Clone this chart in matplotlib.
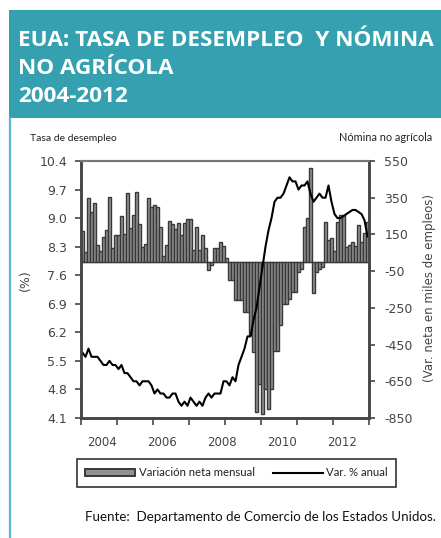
import matplotlib
matplotlib.use('Agg')
import matplotlib.pyplot as plt
from matplotlib.patches import Rectangle, Patch
from matplotlib.lines import Line2D
import numpy as np

# Datos mensuales ene-2004 a dic-2011
payroll = [
    170, 55, 350, 270, 322, 93, 60, 135, 173, 356, 77, 145,          # 2004
    148, 252, 154, 374, 183, 255, 382, 206, 79, 96, 349, 298,        # 2005
    310, 298, 190, 32, 95, 224, 205, 180, 210, 146, 210, 233,        # 2006
    233, 64, 188, 64, 146, 77, -46, -18, 77, 77, 109, 88,            # 2007
    20, -98, -100, -208, -208, -208, -274, -274, -400, -492, -815, -665,  # 2008
    -826, -692, -802, -692, -487, -487, -345, -230, -230, -200, -165, -165,  # 2009
    -55, -36, 191, 241, 514, -168, -55, -40, -30, 219, 120, 130,     # 2010
    60, 219, 257, 257, 82, 93, 110, 88, 202, 110, 160, 219,          # 2011
]
unemp = [
    5.7, 5.6, 5.8, 5.6, 5.6, 5.6, 5.5, 5.4, 5.4, 5.5, 5.4, 5.4,
    5.3, 5.4, 5.2, 5.2, 5.1, 5.0, 5.0, 4.9, 5.0, 5.0, 5.0, 4.9,
    4.7, 4.8, 4.7, 4.7, 4.6, 4.6, 4.7, 4.7, 4.5, 4.4, 4.5, 4.4,
    4.6, 4.5, 4.4, 4.5, 4.4, 4.6, 4.7, 4.6, 4.7, 4.7, 4.7, 5.0,
    5.0, 4.9, 5.1, 5.0, 5.4, 5.6, 5.8, 6.1, 6.1, 6.5, 6.8, 7.3,
    7.8, 8.3, 8.7, 9.0, 9.4, 9.5, 9.5, 9.6, 9.8, 10.0, 9.9, 9.9,
    9.7, 9.8, 9.8, 9.9, 9.6, 9.4, 9.5, 9.6, 9.5, 9.5, 9.8, 9.4,
    9.1, 9.0, 9.0, 9.05, 9.1, 9.15, 9.2, 9.2, 9.15, 9.1, 8.95, 8.55,
]
year_labels = ['2004', '2006', '2008', '2010', '2012']
year_label_pos = [7, 27, 47, 67, 87]
left_ticks = [4.1, 4.8, 5.5, 6.2, 6.9, 7.6, 8.3, 9.0, 9.7, 10.4]
right_ticks = [-850, -650, -450, -250, -50, 150, 350, 550]

W, H = 441, 538
fig = plt.figure(figsize=(W / 100, H / 100), dpi=100)

teal = '#35a1b0'
# encabezado
fig.patches.append(Rectangle((9 / W, 1 - 118 / H), 1 - 9 / W, 108 / H,
                             transform=fig.transFigure, facecolor=teal,
                             edgecolor='none', zorder=0))
fig.add_artist(Line2D([9.5 / W, 9.5 / W], [0, 1 - 118 / H], color='#5cb9c6',
                      lw=1.6, transform=fig.transFigure))

tkw = dict(color='white', fontweight='bold', family='Open Sans', fontsize=16.2,
           va='baseline', ha='left')
fig.text(18 / W, 1 - 46 / H, 'EUA: TASA DE DESEMPLEO  Y NÓMINA', **tkw)
fig.text(18 / W, 1 - 74 / H, 'NO AGRÍCOLA', **tkw)
fig.text(18 / W, 1 - 102 / H, '2004-2012', **tkw)

fig.text(30 / W, 1 - 141 / H, 'Tasa de desempleo', family='Lato', fontsize=7.5,
         color='#222', va='baseline')
fig.text(432 / W, 1 - 141 / H, 'Nómina no agrícola', family='Lato', fontsize=7.8,
         color='#222', va='baseline', ha='right')

ax = fig.add_axes([81 / W, 1 - 418 / H, 288 / W, 257 / H])
ax2 = ax.twinx()

x = np.arange(len(payroll)) + 0.5
ax2.bar(x, payroll, width=1.0, facecolor='#929292', edgecolor='#383838', lw=1.0)
ax2.axhline(0, color='#8a8a8a', lw=1.0, zorder=0.5)
ax.plot(x, unemp, color='black', lw=1.5)

ax.set_zorder(ax2.get_zorder() + 1)
ax.patch.set_visible(False)

ax.set_xlim(0, 96)
ax.set_ylim(4.1, 10.4)
ax2.set_ylim(-850, 550)
ax.set_yticks(left_ticks)
ax.set_yticklabels([f'{v:.1f}' for v in left_ticks])
ax2.set_yticks(right_ticks)
ax2.set_yticklabels([str(v) for v in right_ticks])

ax.set_xticks(np.arange(0, 97, 12))
ax.set_xticklabels([])
ax.set_xticks(year_label_pos, minor=True)
ax.set_xticklabels(year_labels, minor=True)

gray = '#444444'
ax.tick_params(axis='y', direction='out', length=4, width=1.2, color=gray,
               labelsize=9, labelcolor=gray, pad=6)
ax2.tick_params(axis='y', direction='out', length=4, width=1.2, color=gray,
                labelsize=9, labelcolor=gray, pad=7)
ax.tick_params(axis='x', which='major', direction='out', length=5, width=1.2,
               color=gray)
ax.tick_params(axis='x', which='minor', length=0, labelsize=8.5,
               labelcolor=gray, pad=13)

for a in (ax, ax2):
    for s in ('left', 'bottom', 'right'):
        a.spines[s].set_color(gray)
        a.spines[s].set_linewidth(1.8)
    a.spines['top'].set_color('#777777')
    a.spines['top'].set_linewidth(1.5)

fig.text(25 / W, 1 - 280 / H, '(%)', rotation=90, ha='center', va='center',
         fontsize=9, color=gray)
fig.text(430 / W, 1 - 288 / H, '(Var. neta en miles de empleos)', rotation=90,
         ha='center', va='center', fontsize=8.5, color=gray)

handles = [Patch(facecolor='#929292', edgecolor='#383838', lw=1.4),
           Line2D([], [], color='black', lw=1.5)]
leg = fig.legend(handles, ['Variación neta mensual', 'Var. % anual'],
                 loc='center', ncol=2,
                 bbox_to_anchor=(236.5 / W, 1 - 473 / H),
                 frameon=True, fancybox=False, edgecolor='black',
                 handlelength=4.4, handleheight=0.5, columnspacing=1.6,
                 handletextpad=0.3, borderpad=0.75, borderaxespad=0,
                 prop={'family': 'Lato', 'size': 8.2})
leg.get_frame().set_linewidth(1.2)
for t in leg.get_texts():
    t.set_color('#222')

fig.text(85 / W, 1 - 521 / H, 'Fuente:  Departamento de Comercio de los Estados Unidos.',
         family='Lato', fontsize=9.6, color='#111', va='baseline')

fig.savefig('out.png', dpi=100)
